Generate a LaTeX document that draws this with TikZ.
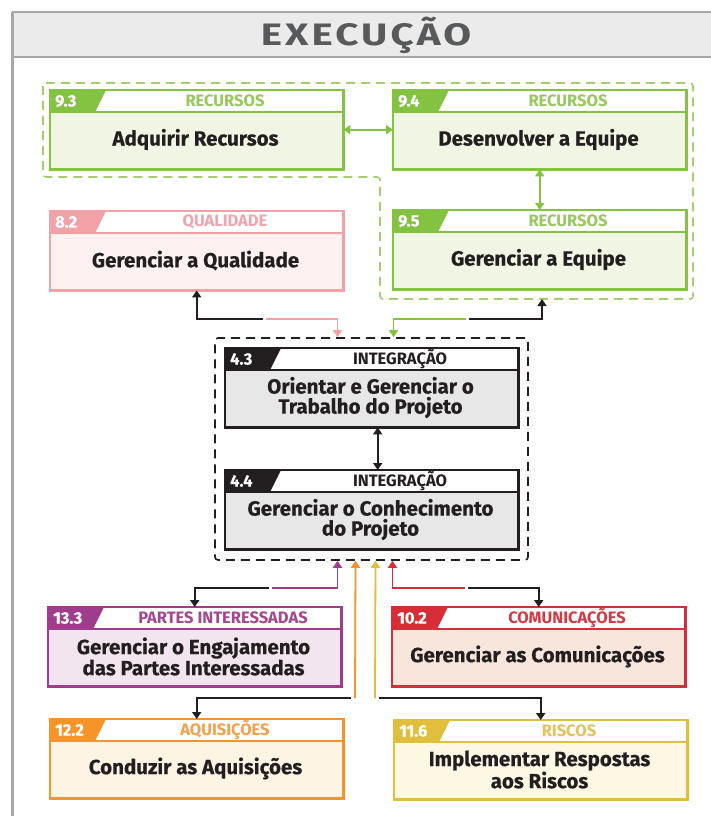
\documentclass[tikz,border=0pt]{standalone}
\usepackage{fontspec}
\setmainfont{Fira Sans}
\usetikzlibrary{arrows.meta}

\definecolor{txtc}{HTML}{231F20}
\definecolor{hdrbg}{HTML}{EBEBEB}
\definecolor{hdrln}{HTML}{A8A8A8}
\definecolor{hdrtx}{HTML}{58595B}
\definecolor{grn}{HTML}{84C241}
\definecolor{grnbg}{HTML}{F1F5E4}
\definecolor{grncat}{HTML}{96C85A}
\definecolor{grndash}{HTML}{A3CF72}
\definecolor{pnk}{HTML}{F2A2A6}
\definecolor{pnkbg}{HTML}{FDF1F1}
\definecolor{pnkcat}{HTML}{F0A5AE}
\definecolor{blk}{HTML}{231F20}
\definecolor{blkbg}{HTML}{E7E7E7}
\definecolor{prp}{HTML}{A03C8C}
\definecolor{prpbg}{HTML}{F2E5EF}
\definecolor{prpcat}{HTML}{A3488F}
\definecolor{comred}{HTML}{D72D37}
\definecolor{comredbg}{HTML}{F8E6DC}
\definecolor{comredcat}{HTML}{D23B43}
\definecolor{org}{HTML}{F79428}
\definecolor{orgbg}{HTML}{FEF4E4}
\definecolor{orgcat}{HTML}{F5A04A}
\definecolor{ylw}{HTML}{E1BE3C}
\definecolor{ylwbg}{HTML}{FDF8E4}
\definecolor{ylwcat}{HTML}{E0C35A}

% name, north west corner, colour, fill, category colour, number, category, text
\newcommand{\procbox}[8]{%
  \node[box, fill=#4, anchor=north west] (#1) at (#2) {};
  \fill[white] (#1.north west) rectangle ([yshift=-22pt]#1.north east);
  \fill[#3] (#1.north west) -- ([xshift=56pt]#1.north west) -- ([shift={(45pt,-22pt)}]#1.north west) -- ([yshift=-22pt]#1.north west) -- cycle;
  \draw[#3, line width=1.6pt] ([yshift=-22pt]#1.north west) -- ([yshift=-22pt]#1.north east);
  \node[numtxt] (#1-num) at ([shift={(5pt,-11pt)}]#1.north west) {#6};
  \node[cattxt, text=#5] (#1-cat) at ([shift={(175pt,-11pt)}]#1.north west) {#7};
  \node[maintxt] (#1-txt) at ([shift={(145.5pt,-49.5pt)}]#1.north west) {#8};
  \draw[#3, line width=2.5pt] (#1.north west) rectangle (#1.south east);
}

\begin{document}
\begin{tikzpicture}[x=1pt,y=-1pt,
  box/.style={rectangle,minimum width=291pt,minimum height=77pt,inner sep=0pt,outer sep=1.2pt},
  numtxt/.style={anchor=west,text=white,font=\bfseries\fontsize{16.5}{16.5}\selectfont\addfontfeature{FakeBold=0.3},inner sep=0pt},
  cattxt/.style={font=\bfseries\fontsize{16.5}{16.5}\selectfont,inner sep=0pt},
  maintxt/.style={font=\bfseries\fontsize{20.5}{20}\selectfont\addfontfeature{FakeBold=0.4},align=center,text=txtc,inner sep=0pt},
  title/.style={font=\bfseries\fontsize{31}{31}\selectfont\addfontfeature{FakeStretch=1.3,LetterSpace=10},text=hdrtx,inner sep=0pt},
  conn/.style={line width=1.8pt,-{Triangle[width=9pt,length=7pt]}},
  dbl/.style={line width=1.8pt,{Triangle[width=9pt,length=7pt]}-{Triangle[width=9pt,length=7pt]}},
  grp/.style={dash pattern=on 9pt off 6pt,line width=1.6pt,rounded corners=3pt},
]
\useasboundingbox (0,0) rectangle (711,816);

% header band
\fill[hdrbg] (12,12) rectangle (711,57);
\draw[hdrln, line width=2pt] (12,12) -- (711,12) (12,57) -- (711,57);
\draw[hdrln, line width=3pt] (12,12) -- (12,816);
\node[title] (exec) at (366,35) {EXECUÇÃO};

% groups
\draw[grp, grndash] (43,83) -- (693,83) -- (693,299) -- (380,299) -- (380,177) -- (43,177) -- cycle;
\coordinate (recbot) at (542,299);
\node[grp, draw=blk, minimum width=313pt, minimum height=222pt, inner sep=0pt] (intg) at (371.5,449) {};

% processes
\procbox{adq}{50,90}{grn}{grnbg}{grncat}{9.3}{RECURSOS}{Adquirir Recursos}
\procbox{des}{393,90}{grn}{grnbg}{grncat}{9.4}{RECURSOS}{Desenvolver a Equipe}
\procbox{geq}{393,210}{grn}{grnbg}{grncat}{9.5}{RECURSOS}{Gerenciar a Equipe}
\procbox{qual}{50,211}{pnk}{pnkbg}{pnkcat}{8.2}{QUALIDADE}{Gerenciar a Qualidade}
\procbox{ori}{225,348}{blk}{blkbg}{blk}{4.3}{INTEGRAÇÃO}{Orientar e Gerenciar o\\Trabalho do Projeto}
\procbox{conh}{225,470}{blk}{blkbg}{blk}{4.4}{INTEGRAÇÃO}{Gerenciar o Conhecimento\\do Projeto}
\procbox{eng}{48,607}{prp}{prpbg}{prpcat}{13.3}{PARTES INTERESSADAS}{Gerenciar o Engajamento\\das Partes Interessadas}
\procbox{com}{392,607}{comred}{comredbg}{comredcat}{10.2}{COMUNICAÇÕES}{Gerenciar as Comunicações}
\procbox{aqu}{50,719}{org}{orgbg}{orgcat}{12.2}{AQUISIÇÕES}{Conduzir as Aquisições}
\procbox{ris}{394,720}{ylw}{ylwbg}{ylwcat}{11.6}{RISCOS}{Implementar Respostas\\aos Riscos}

% links inside groups
\draw[dbl, grn] (adq.east) -- (des.west);
\draw[dbl, grn] (des.south) -- (geq.north);
\draw[dbl, blk] ([xshift=6pt]ori.south) -- ([xshift=6pt]conh.north);

% upper connectors
\coordinate (qsplit) at (266,319);
\draw[conn, pnk] (qsplit) -| ([xshift=-34pt]intg.north);
\draw[conn, blk] ([xshift=-3pt]qsplit) -| (qual.south);
\coordinate (rsplit) at (466,319);
\draw[conn, grn] (rsplit) -| ([xshift=22pt]intg.north);
\draw[conn, blk] ([xshift=3pt]rsplit) -| (recbot);

% lower connectors
\coordinate (esplit) at (272,588);
\draw[conn, prp] (esplit) -| ([xshift=-34pt]intg.south);
\draw[conn, blk] ([xshift=-3pt]esplit) -| (eng.north);
\coordinate (csplit) at (465,588);
\draw[conn, comred] (csplit) -| ([xshift=21pt]intg.south);
\draw[conn, blk] ([xshift=3pt]csplit) -| (com.north);
\coordinate (asplit) at (355,698);
\draw[conn, org] (asplit) -- ([xshift=-16pt]intg.south);
\draw[conn, blk] ([xshift=-4pt]asplit) -| (aqu.north);
\coordinate (ysplit) at (375,698);
\draw[conn, ylw] (ysplit) -- ([xshift=4pt]intg.south);
\draw[conn, blk] ([xshift=4pt]ysplit) -| (ris.north);
\end{tikzpicture}
\end{document}
